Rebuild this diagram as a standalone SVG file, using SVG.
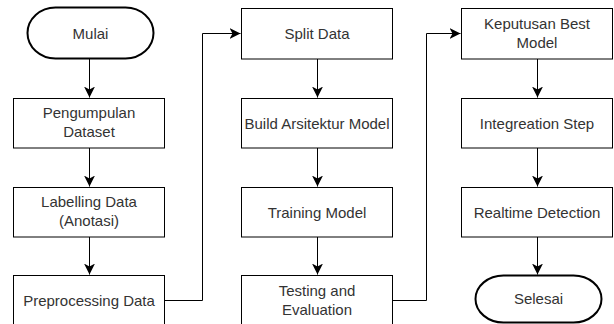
<svg xmlns="http://www.w3.org/2000/svg" width="614" height="324" viewBox="0 0 614 324">
<style>
.box{fill:#fff;stroke:#000;stroke-width:1}
.term{fill:#fff;stroke:#000;stroke-width:2}
.lbl{font-family:"Liberation Sans",Arial,sans-serif;font-size:15px;fill:#333;text-anchor:middle}
.edge{fill:none;stroke:#000;stroke-width:1}
</style>
<defs>
<marker id="arr" viewBox="0 0 11 11" refX="11" refY="5.5" markerWidth="11" markerHeight="11" markerUnits="userSpaceOnUse" orient="auto">
<path d="M0,0 L11,5.5 L0,11 L3,5.5 Z" fill="#000"/>
</marker>
</defs>
<rect width="614" height="324" fill="#fff"/>
<g id="connectors">
<path class="edge" d="M89.5,59 V97.5" marker-end="url(#arr)"/>
<path class="edge" d="M89.5,148 V186.5" marker-end="url(#arr)"/>
<path class="edge" d="M89.5,237 V274.5" marker-end="url(#arr)"/>
<path class="edge" d="M165,300.5 H202.5 V33.5 H240.5" marker-end="url(#arr)"/>
<path class="edge" d="M317.5,59 V97.5" marker-end="url(#arr)"/>
<path class="edge" d="M317.5,148 V186.5" marker-end="url(#arr)"/>
<path class="edge" d="M317.5,237 V274.5" marker-end="url(#arr)"/>
<path class="edge" d="M393,300.5 H426.5 V33.5 H460.5" marker-end="url(#arr)"/>
<path class="edge" d="M537.5,59 V97.5" marker-end="url(#arr)"/>
<path class="edge" d="M537.5,148 V186.5" marker-end="url(#arr)"/>
<path class="edge" d="M537.5,237 V274.5" marker-end="url(#arr)"/>
</g>
<g id="mulai">
<rect class="term" x="27.5" y="7.5" width="126" height="51" rx="28" ry="25.5"/>
<text class="lbl" x="90.5" y="38.5">Mulai</text>
</g>
<g id="pengumpulan">
<rect class="box" x="13.5" y="98.5" width="151" height="49.5"/>
<text class="lbl" x="89" y="118">Pengumpulan</text>
<text class="lbl" x="89" y="137">Dataset</text>
</g>
<g id="labelling">
<rect class="box" x="13.5" y="187.5" width="151" height="49.5"/>
<text class="lbl" x="89" y="207">Labelling Data</text>
<text class="lbl" x="89" y="226">(Anotasi)</text>
</g>
<g id="preprocessing">
<rect class="box" x="13.5" y="275.5" width="151" height="50"/>
<text class="lbl" x="89" y="305.5">Preprocessing Data</text>
</g>
<g id="split">
<rect class="box" x="241.5" y="8.5" width="151" height="50.5"/>
<text class="lbl" x="317" y="39">Split Data</text>
</g>
<g id="build">
<rect class="box" x="241.5" y="98.5" width="151" height="49.5"/>
<text class="lbl" x="317" y="128.5">Build Arsitektur Model</text>
</g>
<g id="training">
<rect class="box" x="241.5" y="187.5" width="151" height="49.5"/>
<text class="lbl" x="317" y="217.5">Training Model</text>
</g>
<g id="testing">
<rect class="box" x="241.5" y="275.5" width="151" height="50"/>
<text class="lbl" x="317" y="295.5">Testing and</text>
<text class="lbl" x="317" y="314.5">Evaluation</text>
</g>
<g id="keputusan">
<rect class="box" x="461.5" y="8.5" width="151" height="50.5"/>
<text class="lbl" x="537" y="29">Keputusan Best</text>
<text class="lbl" x="537" y="48">Model</text>
</g>
<g id="integration">
<rect class="box" x="461.5" y="98.5" width="151" height="49.5"/>
<text class="lbl" x="537" y="128.5">Integreation Step</text>
</g>
<g id="realtime">
<rect class="box" x="461.5" y="187.5" width="151" height="49.5"/>
<text class="lbl" x="537" y="217.5">Realtime Detection</text>
</g>
<g id="selesai">
<rect class="term" x="475.5" y="275.5" width="126" height="47" rx="28" ry="23.5"/>
<text class="lbl" x="538.5" y="304">Selesai</text>
</g>
</svg>
